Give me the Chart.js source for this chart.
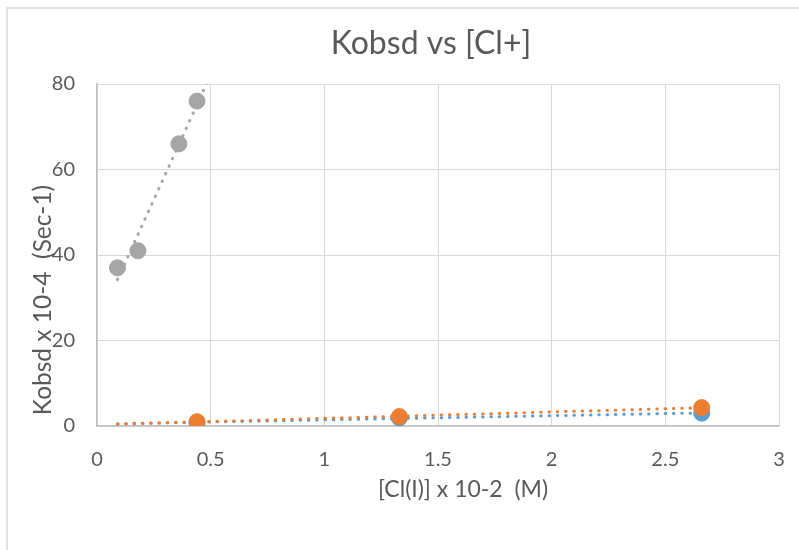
<!DOCTYPE html>
<html>
<head>
<meta charset="utf-8">
<script src="https://cdn.jsdelivr.net/npm/chart.js@4/dist/chart.umd.min.js"></script>
<style>
  html, body { margin: 0; padding: 0; background: #fff; }
  #wrap { width: 799px; height: 550px; position: relative; }
</style>
</head>
<body>
<div id="wrap"><canvas id="chart"></canvas></div>
<script>
// data
const grayX = [0.09, 0.18, 0.36, 0.44];
const grayY = [37, 41, 66, 76];
const blueX = [0.44, 1.33, 2.66];
const blueY = [0.8, 1.9, 3.0];
const orangeX = [0.44, 1.33, 2.66];
const orangeY = [1.0, 2.2, 4.3];

// trendline x ranges as drawn
const grayTrendX = [0.09, 0.5];
const blueTrendX = [0.09, 2.66];
const orangeTrendX = [0.09, 2.66];

const xTicks = [0, 0.5, 1, 1.5, 2, 2.5, 3];
const yTicks = [0, 20, 40, 60, 80];

const chartTitle = 'Kobsd vs [Cl+]';
const xTitle = '[Cl(I)] x 10-2  (M)';
const yTitle = 'Kobsd x 10-4  (Sec-1)';

const BLUE = '#5B9BD5';
const ORANGE = '#ED7D31';
const GRAY = '#A5A5A5';
const TEXT = '#595959';
const FONT = 'Lato, "Open Sans", sans-serif';

function toPoints(xs, ys) {
    return xs.map((x, i) => ({ x: x, y: ys[i] }));
}

// least squares line, like the Excel linear trendline
function trend(xs, ys, range) {
    const n = xs.length;
    const mx = xs.reduce((a, b) => a + b, 0) / n;
    const my = ys.reduce((a, b) => a + b, 0) / n;
    let sxy = 0, sxx = 0;
    xs.forEach((x, i) => {
        sxy += (x - mx) * (ys[i] - my);
        sxx += (x - mx) * (x - mx);
    });
    const m = sxy / sxx;
    const b = my - m * mx;
    return range.map(x => ({ x: x, y: m * x + b }));
}

function pointSet(data, color) {
    return {
        type: 'scatter',
        data: data,
        backgroundColor: color,
        borderColor: color,
        pointRadius: 8,
        pointHoverRadius: 8,
        showLine: false
    };
}

function trendSet(data, color) {
    return {
        type: 'line',
        data: data,
        borderColor: color,
        borderWidth: 3,
        borderDash: [0.5, 7.8],
        borderCapStyle: 'round',
        pointRadius: 0,
        fill: false
    };
}

function drawText(ctx, text, x, y, size, angle) {
    ctx.save();
    ctx.translate(x, y);
    if (angle) ctx.rotate(angle);
    ctx.fillStyle = TEXT;
    ctx.font = size + 'px ' + FONT;
    ctx.textAlign = 'center';
    ctx.textBaseline = 'middle';
    ctx.fillText(text, 0, 0);
    ctx.restore();
}

// outer frame and the titles, which sit off-centre in the reference
const framePlugin = {
    id: 'frame',
    beforeDraw(chart) {
        const ctx = chart.ctx;
        ctx.save();
        ctx.fillStyle = '#ffffff';
        ctx.fillRect(0, 0, chart.width, chart.height);
        ctx.strokeStyle = '#d9d9d9';
        ctx.lineWidth = 1.5;
        ctx.beginPath();
        ctx.moveTo(7, chart.height);
        ctx.lineTo(7, 8);
        ctx.lineTo(chart.width, 8);
        ctx.stroke();
        ctx.restore();
    },
    afterDraw(chart) {
        const ctx = chart.ctx;
        drawText(ctx, chartTitle, 431, 44, 32, 0);
        drawText(ctx, xTitle, 463, 490, 23, 0);
        drawText(ctx, yTitle, 43, 300, 24.5, -Math.PI / 2);
    }
};

new Chart(document.getElementById('chart'), {
    type: 'scatter',
    data: {
        datasets: [
            pointSet(toPoints(orangeX, orangeY), ORANGE),
            pointSet(toPoints(blueX, blueY), BLUE),
            pointSet(toPoints(grayX, grayY), GRAY),
            trendSet(trend(orangeX, orangeY, orangeTrendX), ORANGE),
            trendSet(trend(blueX, blueY, blueTrendX), BLUE),
            trendSet(trend(grayX, grayY, grayTrendX), GRAY)
        ]
    },
    options: {
        responsive: true,
        maintainAspectRatio: false,
        animation: false,
        layout: { padding: { left: 0, right: 20, top: 84, bottom: 0 } },
        plugins: {
            legend: { display: false },
            tooltip: { enabled: false },
            title: { display: false }
        },
        scales: {
            x: {
                type: 'linear',
                min: 0,
                max: 3,
                afterBuildTicks(scale) {
                    scale.ticks = xTicks.map(v => ({ value: v }));
                },
                afterFit(scale) { scale.height = 124; },
                grid: { color: '#d9d9d9', drawTicks: true, tickLength: 22, tickColor: 'rgba(0,0,0,0)' },
                border: { color: '#bfbfbf', width: 1.5 },
                ticks: {
                    color: TEXT,
                    padding: 0,
                    font: { family: FONT, size: 20 },
                    callback: v => String(v)
                }
            },
            y: {
                type: 'linear',
                min: 0,
                max: 80,
                afterBuildTicks(scale) {
                    scale.ticks = yTicks.map(v => ({ value: v }));
                },
                afterFit(scale) { scale.width = 97; },
                grid: { color: '#d9d9d9', drawTicks: false },
                border: { color: '#bfbfbf', width: 1.5 },
                ticks: {
                    color: TEXT,
                    padding: 22,
                    font: { family: FONT, size: 20 }
                }
            }
        }
    },
    plugins: [framePlugin]
});
</script>
</body>
</html>
